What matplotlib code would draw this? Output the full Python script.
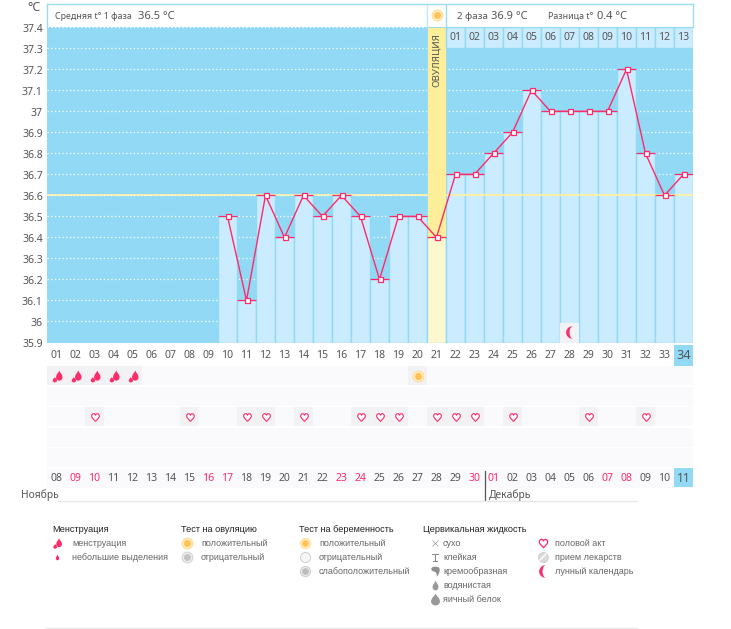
import numpy as np
import matplotlib
matplotlib.use("Agg")
import matplotlib.pyplot as plt
from matplotlib.path import Path
from matplotlib.transforms import Affine2D

plt.rcParams['font.family'] = ['Noto Sans', 'DejaVu Sans']

W, H = 731, 629

# data
days = list(range(1, 35))
temp_days = list(range(10, 35))
temps = [36.5, 36.1, 36.6, 36.4, 36.6, 36.5, 36.6, 36.5, 36.2, 36.5, 36.5, 36.4,
         36.7, 36.7, 36.8, 36.9, 37.1, 37.0, 37.0, 37.0, 37.0, 37.2, 36.8, 36.6, 36.7]
cover_line = 36.6
ovulation_day = 21
y_ticks = [37.4, 37.3, 37.2, 37.1, 37, 36.9, 36.8, 36.7, 36.6, 36.5, 36.4, 36.3, 36.2, 36.1, 36, 35.9]
phase2_days = list(range(22, 35))
phase2_labels = ['%02d' % i for i in range(1, 14)]
cycle_labels = ['%02d' % i for i in range(1, 35)]
date_labels = ['08', '09', '10', '11', '12', '13', '14', '15', '16', '17', '18', '19', '20', '21', '22', '23', '24',
               '25', '26', '27', '28', '29', '30', '01', '02', '03', '04', '05', '06', '07', '08', '09', '10', '11']
red_dates = [2, 3, 9, 10, 16, 17, 23, 24, 30, 31]
menses_days = [1, 2, 3, 4, 5]
opk_days = [20]
sex_days = [3, 8, 11, 12, 14, 17, 18, 19, 21, 22, 23, 25, 29, 32]
moon_days = [28]

BLUE = '#92D9F5'
BAR = '#CBECFF'
RED = '#FF2A68'
GREY = '#555555'
YEL = '#FDEE9A'
YEL2 = '#FFF8CF'
LEGEND_FONT = ['Liberation Sans', 'DejaVu Sans']


def axes_px(x0, y0, x1, y1):
    return fig.add_axes([x0 / W, 1 - y1 / H, (x1 - x0) / W, (y1 - y0) / H])


# marker shapes
def drop_path():
    return Path([(0, 1), (0.15, 0.55), (0.6, 0.3), (0.6, -0.35), (0.6, -0.75), (0.3, -1), (0, -1),
                 (-0.3, -1), (-0.6, -0.75), (-0.6, -0.35), (-0.6, 0.3), (-0.15, 0.55), (0, 1), (0, 1)],
                [Path.MOVETO] + [Path.CURVE4] * 12 + [Path.CLOSEPOLY])


def flame_path():
    big = drop_path().transformed(Affine2D().scale(0.9, 0.85).translate(0.3, 0.15))
    small = drop_path().transformed(Affine2D().scale(0.6, 0.45).translate(-0.45, -0.55))
    return Path.make_compound_path(big, small)


def heart_path():
    return Path([(0, -1), (-0.5, -0.45), (-1, -0.1), (-1, 0.4), (-1, 0.8), (-0.65, 1), (-0.45, 1),
                 (-0.25, 1), (-0.08, 0.85), (0, 0.6), (0.08, 0.85), (0.25, 1), (0.45, 1),
                 (0.65, 1), (1, 0.8), (1, 0.4), (1, -0.1), (0.5, -0.45), (0, -1), (0, -1)],
                [Path.MOVETO] + [Path.CURVE4] * 18 + [Path.CLOSEPOLY])


def moon_path():
    a = np.linspace(0.5 * np.pi, 1.5 * np.pi, 30)
    outer = np.column_stack([np.cos(a), np.sin(a)])
    inner = np.column_stack([0.1 + 0.55 * np.cos(a[::-1]), np.sin(a[::-1])])
    return Path(np.vstack([outer, inner]) + [0.3, 0])


def comma_path():
    return Path([(-0.8, 0.5), (-0.8, 1), (0.1, 1), (0.6, 0.8), (1, 0.5), (0.8, -0.5), (0.2, -1),
                 (0.3, -0.5), (0.2, -0.1), (-0.3, 0), (-0.6, 0.05), (-0.8, 0.2), (-0.8, 0.5), (-0.8, 0.5)],
                [Path.MOVETO] + [Path.CURVE4] * 12 + [Path.CLOSEPOLY])


def sun(ax, x, y, size=1.0, c1='#FFDF96', c2='#FFF3CF', c3='#FFC35A'):
    ax.plot(x, y, 'o', ms=9 * size, mfc=c1, mec=c1, mew=0, zorder=6, clip_on=False)
    ax.plot(x, y, 'o', ms=7 * size, mfc=c2, mec=c2, mew=0, zorder=6, clip_on=False)
    ax.plot(x, y, 'o', ms=5.4 * size, mfc=c3, mec=c3, mew=0, zorder=6, clip_on=False)


fig = plt.figure(figsize=(W / 100, H / 100), dpi=100, facecolor='white')

# temperature chart
ax = axes_px(47, 27.3, 693, 342.5)
ax.set_xlim(0.5, 34.5)
ax.set_ylim(35.9, 37.4)
ax.set_facecolor(BLUE)
for s in ax.spines.values():
    s.set_visible(False)
ax.set_xticks([])
ax.set_yticks([])

for t in y_ticks:
    ax.axhline(t, color='white', lw=0.9, ls=(0, (1, 2)), zorder=1, clip_on=False)
    ax.annotate(str(t), (0.5, t), xytext=(-3, -1.5), textcoords='offset points', ha='right', va='center',
                fontsize=7.5, color=GREY, annotation_clip=False)

base = 35.9
bar_temps = [t - base for t in temps]
cols = [YEL2 if d == ovulation_day else BAR for d in temp_days]
ax.bar(temp_days, bar_temps, bottom=base, width=1, color=cols, edgecolor=BLUE, lw=1, zorder=2)

# ovulation column above the measured value
ov_t = temps[temp_days.index(ovulation_day)]
ax.bar([ovulation_day], [37.4 - ov_t], bottom=ov_t, width=1, color=YEL, edgecolor=BLUE, lw=0.6, zorder=2)
ax.text(ovulation_day, 37.115, 'ОВУЛЯЦИЯ', rotation=90, ha='center', va='bottom', fontsize=7, color=GREY, zorder=5)

# second phase day numbers
ax.bar(phase2_days, [0.1] * 13, bottom=37.3, width=1, color=BAR, edgecolor=BLUE, lw=1, zorder=2)
for d, lab in zip(phase2_days, phase2_labels):
    ax.text(d, 37.35, lab, ha='center', va='center', fontsize=7.5, color=GREY, zorder=5)

# cover line
ax.axhline(cover_line, color='#FFF0A0', lw=1.3, zorder=3)
ax.axhline(cover_line, xmax=(ovulation_day - 1) / 34, color='white', lw=0.8, ls=(0, (1, 2)), zorder=3)

# moon cell
for d in moon_days:
    ax.bar([d], [0.095], bottom=35.9, width=0.95, color='#F2F2F4', zorder=3)
    ax.plot(d, 35.95, marker=moon_path(), ms=9, mfc='#F5306F', mec='none', zorder=4)

# measurements
ax.hlines(temps, np.array(temp_days) - 0.5, np.array(temp_days) + 0.5, color=RED, lw=0.9, zorder=5)
ax.plot(temp_days, temps, color=RED, lw=1.0, zorder=6)
ax.plot(temp_days, temps, ls='none', marker='s', ms=3.6, mfc='white', mec=RED, mew=0.9, zorder=7)

# header
hd = axes_px(47, 3.5, 693, 27.3)
hd.set_xlim(0.5, 34.5)
hd.set_ylim(0, 1)
hd.set_xticks([])
hd.set_yticks([])
for s in hd.spines.values():
    s.set_color('#9BDCF5')
    s.set_linewidth(1)
hd.spines['bottom'].set_visible(False)
hd.axvline(ovulation_day - 0.5, color='#BFE8F8', lw=1)
hd.axvline(ovulation_day + 0.5, color='#9BDCF5', lw=1)
sun(hd, ovulation_day, 0.5, 0.95)
hd.text(0.92, 0.46, 'Средняя t° 1 фаза', ha='left', va='center', fontsize=6.4, color=GREY)
hd.text(5.29, 0.46, '36.5 °C', ha='left', va='center', fontsize=8, color=GREY)
hd.text(22.08, 0.46, '2 фаза', ha='left', va='center', fontsize=7, color=GREY)
hd.text(23.87, 0.46, '36.9 °C', ha='left', va='center', fontsize=8, color=GREY)
hd.text(26.87, 0.46, 'Разница t°', ha='left', va='center', fontsize=6.4, color=GREY)
hd.text(29.45, 0.46, '0.4 °C', ha='left', va='center', fontsize=8, color=GREY)

# table of rows below the chart
tb = axes_px(47, 345, 693, 488.5)
tb.set_xlim(0.5, 34.5)
tb.set_ylim(6.5, -0.5)
tb.axis('off')
for r in range(1, 7):
    tb.bar(days, [0.92] * 34, bottom=r - 0.46, width=0.95, color='#FAF9FB', zorder=1)
tb.bar([34], [1], bottom=-0.5, width=1, color=BLUE, zorder=2)
tb.bar([34], [0.95], bottom=5.5, width=1, color=BLUE, zorder=2)

for d, lab in zip(days, cycle_labels):
    tb.text(d, 0, lab, ha='center', va='center', fontsize=7.5 if d < 34 else 9.2, color=GREY, zorder=3)
for d, lab in zip(days, date_labels):
    tb.text(d, 6.0, lab, ha='center', va='center', fontsize=7.5 if d < 34 else 8.6,
            color=RED if d in red_dates else GREY, zorder=3)

tb.bar(menses_days, [0.92] * 5, bottom=0.54, width=0.95, color='#F2F2F4', zorder=2)
tb.plot(menses_days, [1] * 5, ls='none', marker=flame_path(), ms=8.5, mfc=RED, mec='none', zorder=3)
tb.bar(opk_days, [0.92], bottom=0.54, width=0.95, color='#F2F2F4', zorder=2)
for d in opk_days:
    sun(tb, d, 1, 0.95)
tb.bar(sex_days, [0.92] * len(sex_days), bottom=2.54, width=0.95, color='#F2F2F4', zorder=2)
tb.plot(sex_days, [3] * len(sex_days), ls='none', marker=heart_path(), ms=5.5, mfc='white', mec=RED, mew=0.8, zorder=3)

# overlay for months and legend, in pixels
ov = fig.add_axes([0, 0, 1, 1])
ov.set_xlim(0, W)
ov.set_ylim(H, 0)
ov.axis('off')
ov.patch.set_alpha(0)

ov.text(21, 495, 'Ноябрь', ha='left', va='center', fontsize=7.4, color=GREY)
ov.text(489, 495, 'Декабрь', ha='left', va='center', fontsize=7.4, color=GREY)
ov.plot([484.5, 484.5], [471, 500], color='#555555', lw=0.9)
ov.plot([58, 637], [500.5, 500.5], color='#E8E8E8', lw=1)
ov.plot([46, 637], [628, 628], color='#E8E8E8', lw=1)

LEG = '#666666'
headings = [(52, 'Менструация'), (181, 'Тест на овуляцию'), (299, 'Тест на беременность'), (423, 'Цервикальная жидкость')]
for x, s in headings:
    ov.text(x, 529, s, ha='left', va='center', fontsize=6.6, color='#222222', family=LEGEND_FONT)

legend_items = [
    (72, 543, 'менструация'), (72, 557, 'небольшие выделения'),
    (201, 543, 'положительный'), (201, 557, 'отрицательный'),
    (319, 543, 'положительный'), (319, 557, 'отрицательный'), (319, 571, 'слабоположительный'),
    (443, 543, 'сухо'), (443, 557, 'клейкая'), (443, 571, 'кремообразная'), (443, 585, 'водянистая'), (443, 599, 'яичный белок'),
    (555, 543, 'половой акт'), (555, 557, 'прием лекарств'), (555, 571, 'лунный календарь'),
]
for x, y, s in legend_items:
    ov.text(x, y, s, ha='left', va='center', fontsize=6.45, color=LEG, family=LEGEND_FONT)

ov.plot(57, 543, marker=flame_path(), ms=7.5, mfc=RED, mec='none')
ov.plot(57, 557, marker=drop_path(), ms=4, mfc=RED, mec='none')
sun(ov, 187, 543, 0.95)
sun(ov, 187, 557, 0.95, '#D8D8D8', '#F2F2F2', '#C4C4C4')
sun(ov, 305, 543, 0.9)
ov.plot(305, 557, 'o', ms=7.2, mfc='#F6F6F6', mec='#CFCFCF', mew=0.7)
sun(ov, 305, 571, 0.9, '#D0D0D0', '#EFEFEF', '#BDBDBD')
ov.plot(435, 543, 'x', ms=5, mec='#999999', mew=0.5)
ov.plot([432, 438], [553.5, 553.5], color='#888888', lw=0.7)
ov.plot([433, 437], [561, 561], color='#888888', lw=0.7)
ov.plot([435, 435], [553.5, 561], color='#888888', lw=0.7)
ov.plot(435, 571, marker=comma_path(), ms=7.5, mfc='#8E8E8E', mec='none')
ov.plot(435, 585, marker=drop_path(), ms=7, mfc='#999999', mec='none')
ov.plot(435, 599, marker=drop_path().transformed(Affine2D().scale(1.25, 1)), ms=8.5, mfc='#999999', mec='none')
ov.plot(543, 543, marker=heart_path(), ms=6, mfc='white', mec=RED, mew=0.9)
ov.plot(543, 557, 'o', ms=7.2, mfc='#DADADA', mec='#C8C8C8', mew=0.5)
ov.plot([540, 546], [560, 554], color='white', lw=1)
ov.plot(543, 571, marker=moon_path(), ms=9, mfc='#F5306F', mec='none')

# degree label
ov.text(41, 7.5, '°C', ha='right', va='center', fontsize=9, color=GREY)

fig.savefig('out.png', dpi=100)
